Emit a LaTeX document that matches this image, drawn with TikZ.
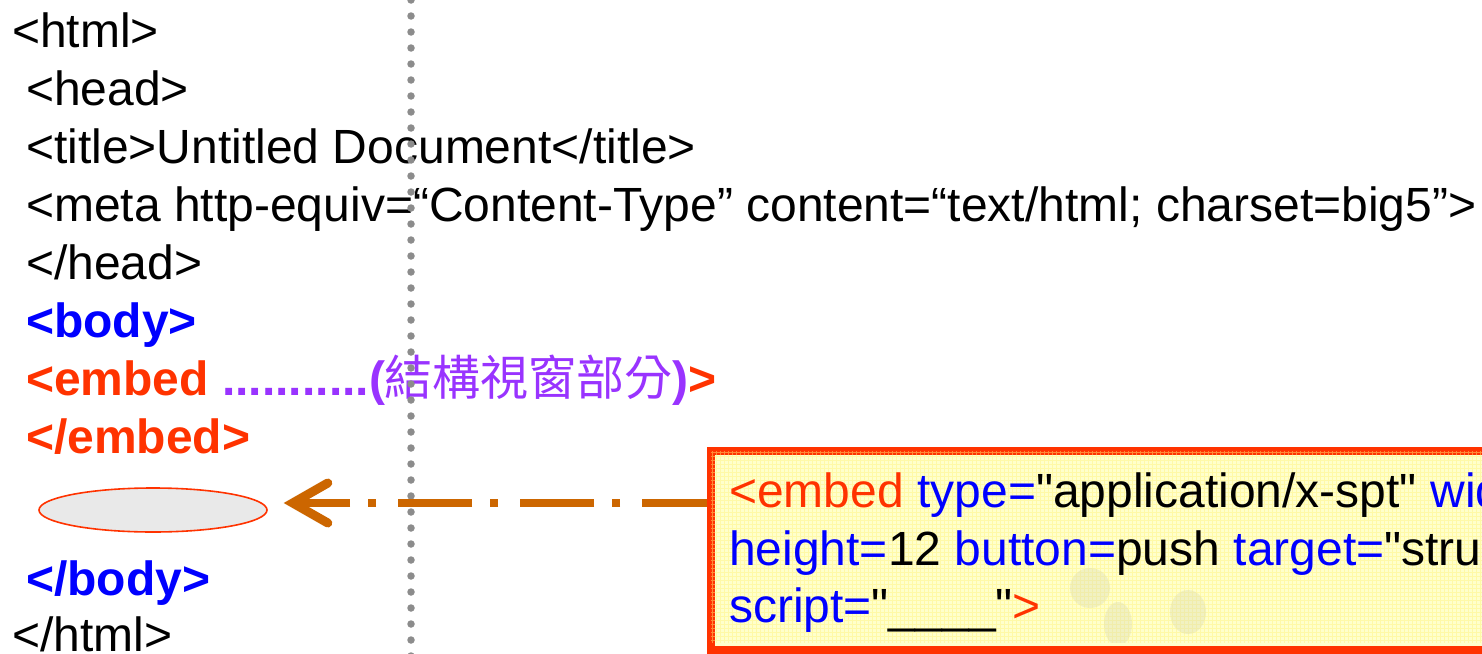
\documentclass[tikz,border=0pt]{standalone}
\usepackage{fontspec}
\newfontfamily\lsans{Liberation Sans}
\newfontfamily\cjk{Noto Sans CJK TC}
\usetikzlibrary{shapes.geometric}
\definecolor{tagred}{HTML}{FF3300}
\definecolor{tagblue}{HTML}{0000FF}
\definecolor{tagpurple}{HTML}{9933FF}
\definecolor{arroworange}{HTML}{CC6600}
\definecolor{dotgray}{HTML}{8C8C8C}
\definecolor{boxyellow}{HTML}{FFFFCC}
\definecolor{gridyellow}{HTML}{FFF27A}
\definecolor{ellgray}{HTML}{E9E9E9}
\definecolor{markgray}{HTML}{D8D8B0}
\begin{document}
\begin{tikzpicture}[x=1pt,y=-1pt,
  code/.style={anchor=base west, inner sep=0pt, font=\lsans\fontsize{48}{58}\selectfont},
  dotline/.style={dotgray, line width=7.5pt, line cap=round, dash pattern=on 0pt off 16pt},
  shaftline/.style={arroworange, line width=8pt, dash pattern=on 74pt off 22pt on 8pt off 18pt, dash phase=9pt},
  headline/.style={arroworange, line width=9pt, line cap=round, line join=miter},
  holder/.style={ellipse, draw=tagred, line width=1.6pt, fill=ellgray, minimum width=228pt, minimum height=44pt, inner sep=0pt},
  codebox/.style={draw=tagred, line width=8pt, fill=boxyellow, inner sep=0pt, minimum width=900pt, minimum height=199pt, anchor=north west},
  watermark/.style={fill=markgray, opacity=0.35}
]
\useasboundingbox (0,0) rectangle (1482,653);
\clip (0,0) rectangle (1482,653);
\fill[white] (0,0) rectangle (1482,653);

% left code
\node[code] (l1) at (12,47) {<html>};
\node[code] (l2) at (26,105) {<head>};
\node[code] (l3) at (26,163) {<title>Untitled Document</title>};
\node[code] (l4) at (26,221) {<meta http-equiv=“Content-Type” content=“text/html; charset=big5”>};
\node[code] (l5) at (26,279) {</head>};
\node[code] (l6) at (26,337) {\bfseries\textcolor{tagblue}{<body>}};
\node[code] (l7) at (26,395) {\bfseries\textcolor{tagred}{<embed }\textcolor{tagpurple}{...........({\cjk\mdseries 結構視窗部分})}\textcolor{tagred}{>}};
\node[code] (l8) at (26,453) {\bfseries\textcolor{tagred}{</embed>}};
\node[holder] (ell) at (153,510) {};
\node[code] (l9) at (26,595) {\bfseries\textcolor{tagblue}{</body>}};
\node[code] (l10) at (12,651) {</html>};

% dotted divider
\coordinate (dtop) at (411,0);
\coordinate (dbot) at (411,660);
\draw[dotline] (dtop) -- (dbot);

% code box
\node[codebox] (box) at (707,447) {};
\begin{scope}
  \clip (711,451) rectangle (1482,642);
  \draw[gridyellow, line width=0.4pt, opacity=0.45] (700,440) grid[step=4pt] (1490,650);
  \fill[watermark] (1090,588) circle[radius=20pt];
  \fill[watermark] (1118,624) ellipse[x radius=14pt, y radius=22pt];
  \fill[watermark] (1188,612) ellipse[x radius=18pt, y radius=22pt];
\end{scope}
\node[code] (b1) at (729,507) {\textcolor{tagred}{<embed} \textcolor{tagblue}{type=}"application/x-spt" \textcolor{tagblue}{width=}};
\node[code] (b2) at (729,565) {\textcolor{tagblue}{height=}12 \textcolor{tagblue}{button=}push \textcolor{tagblue}{target=}"structure"};
\node[code] (b3) at (729,622) {\textcolor{tagblue}{script=}"\_\_\_\_"\textcolor{tagred}{>}};

% arrow
\coordinate (tip) at ([xshift=15pt,yshift=7pt]ell.east);
\draw[shaftline, shorten >=8pt] (box.west |- tip) -- (tip);
\draw[headline] ([xshift=45pt,yshift=20pt]tip) -- ([xshift=10pt]tip) -- ([xshift=45pt,yshift=-20pt]tip);
\end{tikzpicture}
\end{document}
